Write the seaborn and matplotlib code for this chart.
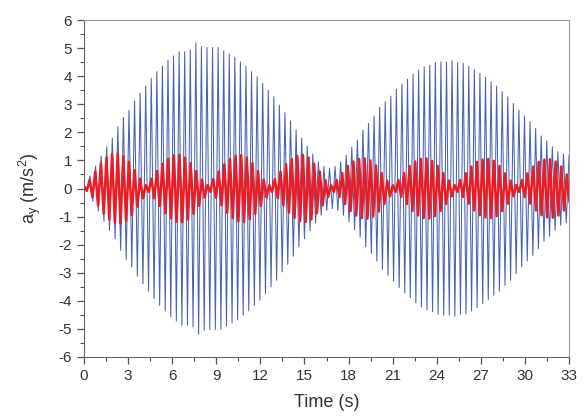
import numpy as np
import pandas as pd
import seaborn as sns
import matplotlib.pyplot as plt
from matplotlib.ticker import MultipleLocator

# --- datos ---
# amplitud de cada ciclo (pico positivo) de la señal azul
blue_amp = [0.10, 0.45, 0.80, 1.16, 1.49, 1.79, 2.20, 2.53, 2.79, 3.12,
            3.39, 3.65, 3.92, 4.16, 4.36, 4.57, 4.72, 4.87, 4.87, 4.93,
            5.19, 5.05, 5.02, 5.02, 5.02, 4.90, 4.79, 4.67, 4.51, 4.36,
            4.16, 3.98, 3.74, 3.50, 3.27, 2.97, 2.70, 2.41, 2.08, 1.79,
            1.51, 1.23, 0.95, 0.78, 0.72, 0.78, 0.95, 1.19, 1.47, 1.73,
            2.08, 2.32, 2.58, 2.89, 3.09, 3.29, 3.53, 3.72, 3.89, 4.07,
            4.22, 4.33, 4.39, 4.48, 4.51, 4.51, 4.55, 4.48, 4.46, 4.36,
            4.24, 4.10, 3.96, 3.80, 3.65, 3.45, 3.27, 3.03, 2.79, 2.58,
            2.38, 2.14, 1.87, 1.70, 1.49, 1.31, 1.23, 1.19]
blue_t0, blue_period = 0.03, 0.379

# amplitud de cada ciclo de la señal roja (8 lóbulos)
red_amp = [0.08, 0.30, 0.60, 0.90, 1.10, 1.22, 1.25, 1.15, 0.95, 0.65, 0.35,
           0.12, 0.35, 0.62, 0.88, 1.06, 1.18, 1.20, 1.10, 0.90, 0.62, 0.32,
           0.12, 0.33, 0.60, 0.86, 1.05, 1.17, 1.19, 1.10, 0.90, 0.62, 0.32,
           0.12, 0.34, 0.60, 0.86, 1.05, 1.16, 1.19, 1.10, 0.88, 0.60, 0.30,
           0.12, 0.30, 0.55, 0.80, 0.96, 1.05, 1.07, 1.00, 0.82, 0.55, 0.28,
           0.12, 0.30, 0.55, 0.80, 0.96, 1.05, 1.07, 0.98, 0.80, 0.55, 0.28,
           0.12, 0.30, 0.54, 0.78, 0.95, 1.03, 1.05, 0.98, 0.80, 0.54, 0.28,
           0.12, 0.30, 0.54, 0.78, 0.95, 1.03, 1.04, 0.96, 0.78, 0.50, 0.25]
red_t0, red_period = 0.0, 0.382


def picos(amp, t0, period):
    # pico y valle de cada ciclo
    amp = np.asarray(amp)
    t = t0 + period * np.arange(len(amp))
    tt = np.column_stack([t, t + period / 2]).ravel()
    yy = np.column_stack([amp, -amp]).ravel()
    return tt, yy


tb, yb = picos(blue_amp, blue_t0, blue_period)
tr, yr = picos(red_amp, red_t0, red_period)
df_blue = pd.DataFrame({'t': tb, 'a': yb})
df_red = pd.DataFrame({'t': tr, 'a': yr})

sns.set_style('ticks')
plt.rcParams['font.family'] = ['Liberation Sans', 'DejaVu Sans']
plt.rcParams['mathtext.default'] = 'regular'
plt.rcParams['axes.unicode_minus'] = False

fig = plt.figure(figsize=(5.87, 4.17), dpi=100)
ax = fig.add_axes([84 / 587, 1 - 357 / 417, 485 / 587, 337 / 417])

sns.lineplot(data=df_blue, x='t', y='a', ax=ax, color='#4863b0',
             linewidth=0.75, estimator=None, sort=False)
sns.lineplot(data=df_red, x='t', y='a', ax=ax, color='#ec1c24',
             linewidth=1.8, estimator=None, sort=False)

ax.set_xlim(0, 33)
ax.set_ylim(-6, 6)
ax.xaxis.set_major_locator(MultipleLocator(3))
ax.xaxis.set_minor_locator(MultipleLocator(1.5))
ax.yaxis.set_major_locator(MultipleLocator(1))
ax.yaxis.set_minor_locator(MultipleLocator(0.5))
ax.tick_params(which='both', direction='out', colors='#555555',
               labelcolor='#333333', top=False, right=False)
ax.tick_params(which='major', length=5, width=0.9, labelsize=11)
ax.tick_params(which='minor', length=3, width=0.8)
for s in ['left', 'bottom']:
    ax.spines[s].set_color('#666666')
for s in ['top', 'right']:
    ax.spines[s].set_color('#9a9a9a')

ax.set_xlabel('Time (s)', fontsize=13, color='#333333')
ax.set_ylabel('a$_y$ (m/s$^2$)', fontsize=13, color='#333333')
ax.xaxis.set_label_coords(0.5, -0.11)
ax.yaxis.set_label_coords(-0.085, 0.5)

plt.savefig('out.png', dpi=100)
